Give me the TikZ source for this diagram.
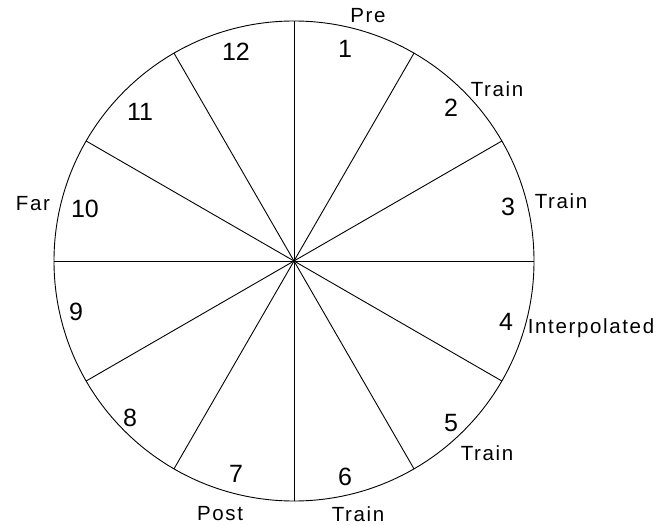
\documentclass[tikz,border=0pt]{standalone}
\usepackage{fontspec}
\setmainfont{Liberation Sans}
\newfontfamily\labfont[LetterSpace=8]{Liberation Sans}
\begin{document}
\begin{tikzpicture}[x=1pt,y=-1pt,
  num/.style={font=\fontsize{25}{25}\selectfont, inner sep=0pt},
  lab/.style={font=\labfont\fontsize{20.5}{20.5}\selectfont, inner sep=0pt},
  rad/.style={line width=0.9pt}]
\useasboundingbox (0,0) rectangle (669,526);
\coordinate (c) at (294,261);
\draw[line width=0.9pt] (c) circle[radius=240];
\foreach \a in {0,30,...,330}{
  \coordinate (r\a) at ([shift={(\a:240pt)}]c);
  \draw[rad] (c) -- (r\a);
}
\node[num] (n1) at (345,49) {1};
\node[num] (n2) at (451,108) {2};
\node[num] (n3) at (508,207) {3};
\node[num] (n4) at (506,322) {4};
\node[num] (n5) at (451,423) {5};
\node[num] (n6) at (345,477) {6};
\node[num] (n7) at (236,474) {7};
\node[num] (n8) at (130,418) {8};
\node[num] (n9) at (76,312) {9};
\node[num] (n10) at (85,209) {10};
\node[num] (n11) at (140,112) {11};
\node[num] (n12) at (236,52) {12};
\node[lab] (pre) at (368,16) {Pre};
\node[lab] (t2) at (497,89) {Train};
\node[lab] (t3) at (561,201) {Train};
\node[lab] (ip) at (591,328) {Interpolated};
\node[lab] (t5) at (487,453) {Train};
\node[lab] (t6) at (358,514) {Train};
\node[lab] (post) at (220,514) {Post};
\node[lab] (far) at (33,204) {Far};
\end{tikzpicture}
\end{document}
